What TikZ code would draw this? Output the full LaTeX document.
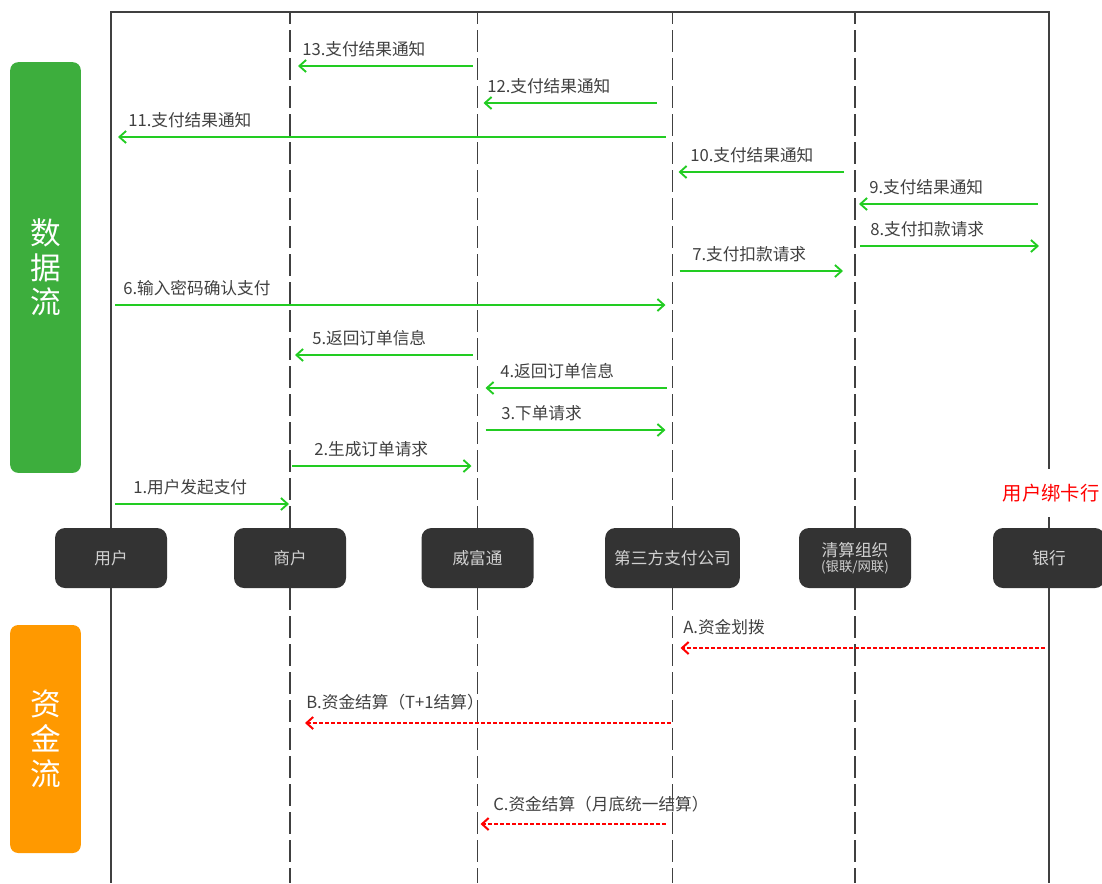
\documentclass[tikz,border=0pt]{standalone}
\usepackage{fontspec}
\setmainfont{Noto Sans CJK SC}
\usepackage{xcolor}
\usetikzlibrary{arrows.meta,positioning,calc}

\definecolor{boxgray}{RGB}{51,51,51}
\definecolor{linegray}{RGB}{64,64,64}
\definecolor{textgray}{RGB}{64,64,64}
\definecolor{flowgreen}{RGB}{34,204,34}
\definecolor{datagreen}{RGB}{61,174,61}
\definecolor{fundorange}{RGB}{255,153,0}
\definecolor{fundred}{RGB}{255,0,0}

\tikzset{
  party/.style={fill=boxgray, rounded corners=7.5pt, minimum width=84pt, minimum height=45pt,
    text=white!82!black, font=\fontsize{12.5}{14}\selectfont, inner sep=0pt, align=center},
  lane/.style={rounded corners=6pt, minimum width=53pt, text=white,
    font=\fontsize{23}{26}\selectfont, align=center, inner sep=0pt},
  life/.style={draw=linegray, line width=1.4pt, dash pattern=on 16pt off 5pt},
  frame/.style={draw=linegray, line width=1.4pt},
  dataflow/.style={->, draw=flowgreen, line width=1.4pt},
  fundflow/.style={->, draw=fundred, line width=1.5pt, dash pattern=on 3pt off 1.5pt},
  msg/.style={anchor=west, text=textgray, font=\fontsize{12.5}{14}\selectfont, inner sep=0pt}
}

\begin{document}
\begin{tikzpicture}[x=0.75pt,y=-0.75pt,>={Straight Barb[length=5pt,width=9pt]}]
    \useasboundingbox (0,0) rectangle (1102,883);
    % side lanes
    \node[lane, fill=datagreen, minimum height=308pt] (datalane) at (45.5,267.5) {数\\据\\流};
    \node[lane, fill=fundorange, minimum height=171pt] (fundlane) at (45.5,739) {资\\金\\流};
    % parties
    \node[party] (user) at (111,558) {用户};
    \node[party] (merchant) at (290,558) {商户};
    \node[party] (swiftpass) at (477.5,558) {威富通};
    \node[party, minimum width=101pt] (thirdpay) at (672.5,558) {第三方支付公司};
    \node[party] (clearing) at (855,558) {清算组织\\[-3pt]{\fontsize{10}{12}\selectfont (银联/网联)}};
    \node[party] (bank) at (1049,558) {银行};
    \node[text=fundred, font=\fontsize{14.5}{16}\selectfont, inner sep=0pt] (bindcard) at (1051,493) {用户绑卡行};
    % frame and lifelines
    \draw[frame] (user.north) -- (user |- 0,12) -- (bank |- 0,12) -- (bank |- 0,469);
    \draw[frame] (bank.north) -- (bank |- 0,517);
    \draw[frame] (user.south) -- (user |- 0,883);
    \draw[frame] (bank.south) -- (bank |- 0,883);
    \foreach \p in {merchant,swiftpass,thirdpay,clearing} {
        \draw[life] (\p.north) -- (\p |- 0,12);
        \draw[life] (\p.south) -- (\p |- 0,883);
    }
    % data flow
    \foreach \a/\da/\b/\db/\y/\lx/\t in {
        swiftpass/-5/merchant/8/66/302/13.支付结果通知,
        thirdpay/-16/swiftpass/6/103/487/12.支付结果通知,
        thirdpay/-7/user/7/137/128/11.支付结果通知,
        clearing/-11/thirdpay/6/172/690/10.支付结果通知,
        bank/-11/clearing/4/204/869/9.支付结果通知,
        clearing/5/bank/-10/246/870/8.支付扣款请求,
        thirdpay/7/clearing/-12/271/692/7.支付扣款请求,
        user/4/thirdpay/-7/305/123/6.输入密码确认支付,
        swiftpass/-5/merchant/5/355/312/5.返回订单信息,
        thirdpay/-6/swiftpass/8/388/500/4.返回订单信息,
        swiftpass/8/thirdpay/-7/430/501/3.下单请求,
        merchant/2/swiftpass/-6/466/314/2.生成订单请求,
        user/4/merchant/-1/504/133/1.用户发起支付} {
        \draw[dataflow] ($(\a |- 0,\y)+(\da,0)$) -- ($(\b |- 0,\y)+(\db,0)$);
        \node[msg] at (\lx,\y-17) {\t};
    }
    % fund flow
    \draw[fundflow] ($(bank |- 0,648)+(-4,0)$) -- ($(thirdpay |- 0,648)+(8,0)$);
    \node[msg] at (683,627) {A.资金划拨};
    \draw[fundflow] ($(thirdpay |- 0,723)+(-2,0)$) -- ($(merchant |- 0,723)+(15,0)$);
    \node[msg] at (306,702) {B.资金结算（T+1结算）};
    \draw[fundflow] ($(thirdpay |- 0,824)+(-7,0)$) -- ($(swiftpass |- 0,824)+(3,0)$);
    \node[msg] at (493,804) {C.资金结算（月底统一结算）};
\end{tikzpicture}
\end{document}
